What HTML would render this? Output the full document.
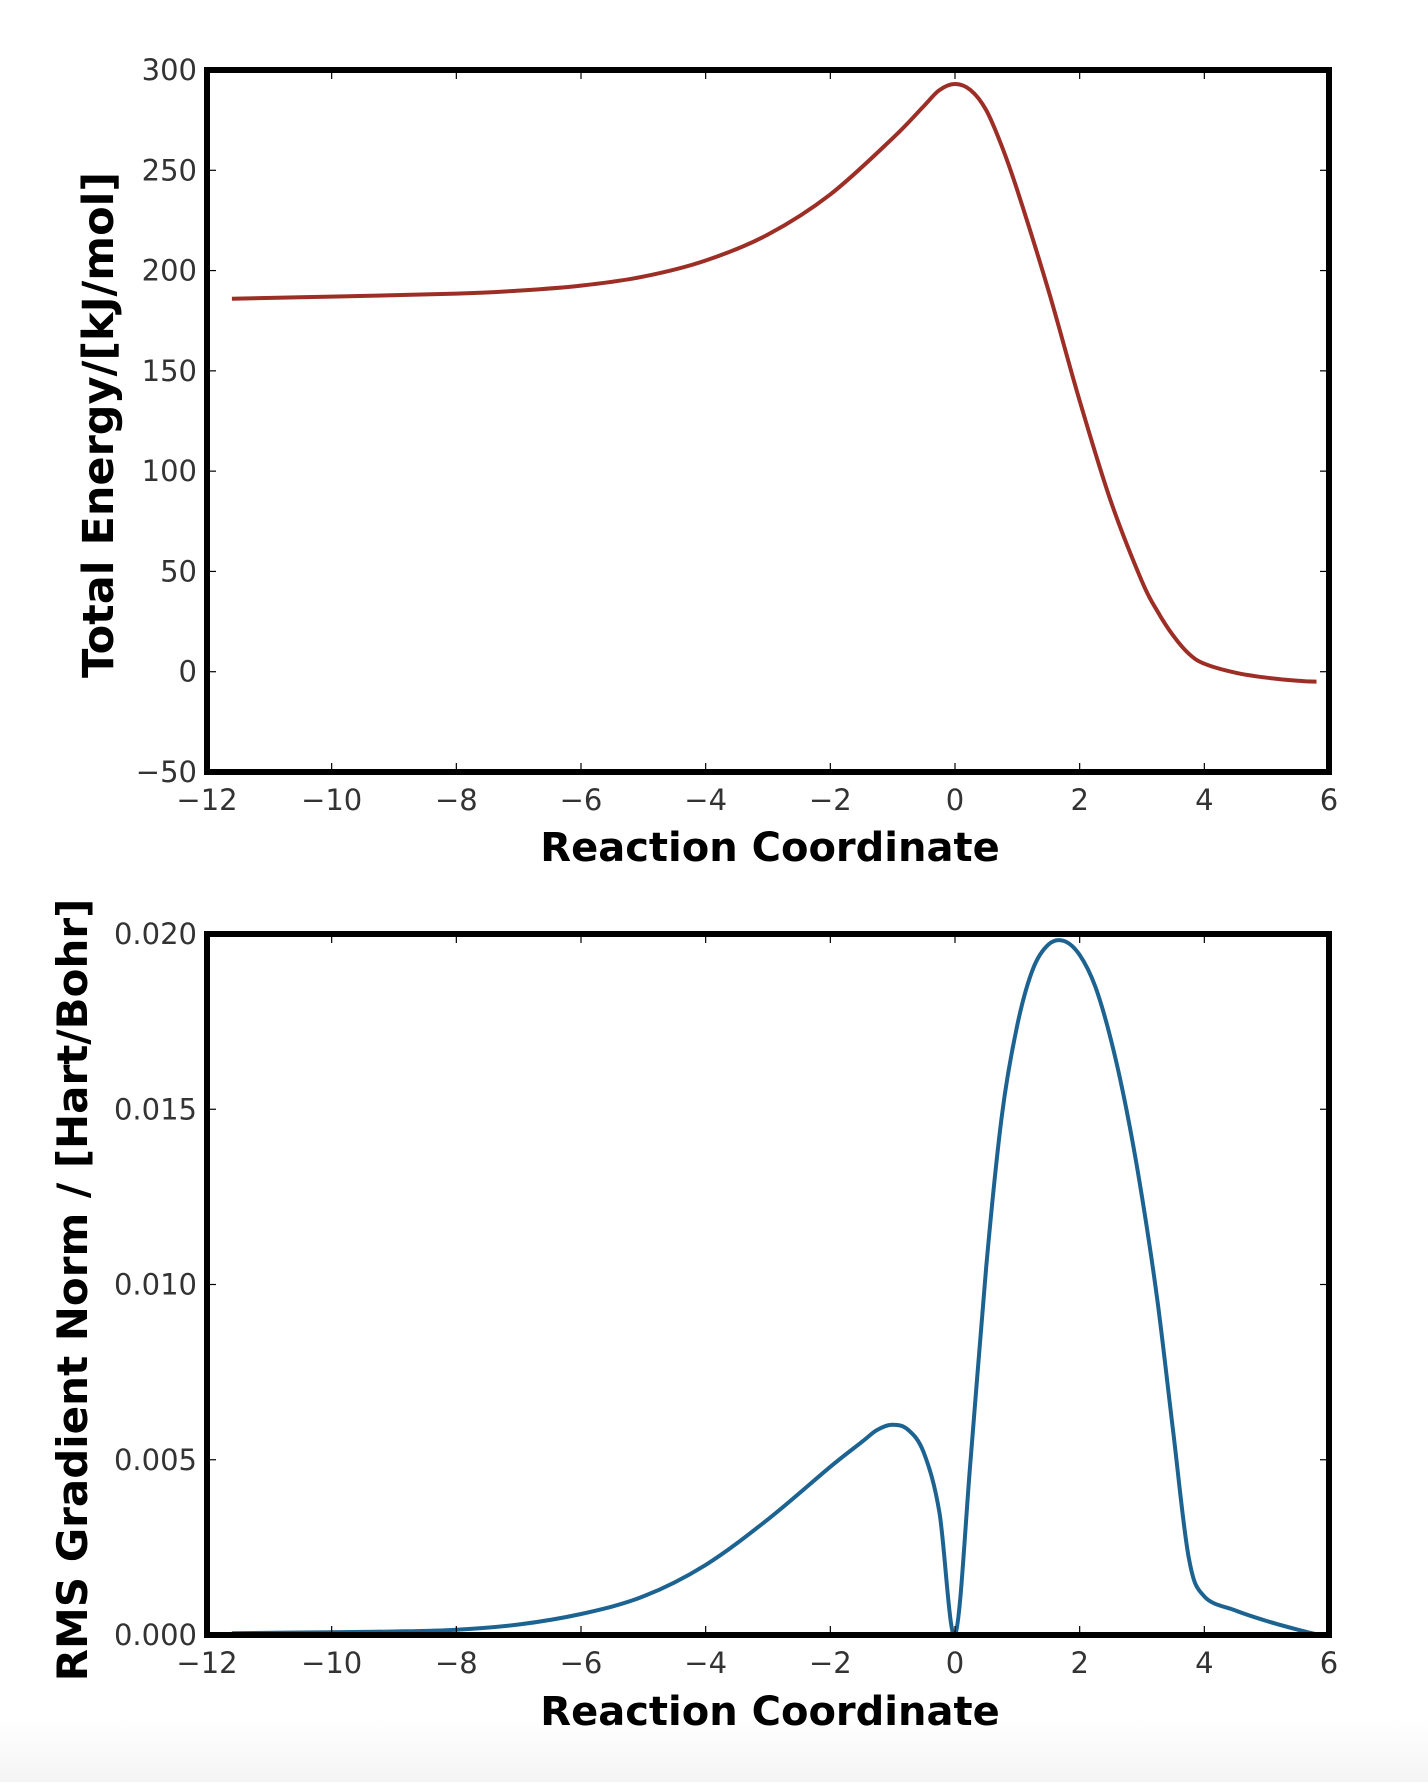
<!DOCTYPE html>
<html><head><meta charset="utf-8"><style>
html,body{margin:0;padding:0;background:#fff;}
body{width:1428px;height:1782px;overflow:hidden;position:relative;background:linear-gradient(#fff 0,#fff 1720px,#f4f4f4 1782px);}
svg text{font-family:"DejaVu Sans","Liberation Sans",sans-serif;}
</style></head><body>
<svg id="s" width="1428" height="1782" xmlns="http://www.w3.org/2000/svg">
<g id="g"></g>
<text x="113" y="425" transform="rotate(-90 113 425)" text-anchor="middle" font-size="43" font-weight="bold" fill="#000">Total Energy/[kJ/mol]</text>
<text x="87" y="1290" transform="rotate(-90 87 1290)" text-anchor="middle" font-size="42" font-weight="bold" fill="#000">RMS Gradient Norm / [Hart/Bohr]</text>
<text x="770" y="861" text-anchor="middle" font-size="40" font-weight="bold" fill="#000">Reaction Coordinate</text>
<text x="770" y="1725" text-anchor="middle" font-size="40" font-weight="bold" fill="#000">Reaction Coordinate</text>
</svg>
<script>
var NS="http://www.w3.org/2000/svg",g=document.getElementById('g');
function el(t,a,txt){var e=document.createElementNS(NS,t);for(var k in a)e.setAttribute(k,a[k]);if(txt!=null)e.textContent=txt;g.appendChild(e);return e;}
function axes(L,T,R,B,ymin,ymax,yt,fmt,data,col){
 var sx=function(x){return L+(x+12)/18*(R-L)},sy=function(y){return B-(y-ymin)/(ymax-ymin)*(B-T)};
 var P=data.map(function(p){return [sx(p[0]),sy(p[1])]});
 var d='M'+P[0][0].toFixed(1)+' '+P[0][1].toFixed(1);
 for(var i=0;i<P.length-1;i++){var p0=P[i-1]||P[i],p1=P[i],p2=P[i+1],p3=P[i+2]||P[i+1];
  d+=' C'+(p1[0]+(p2[0]-p0[0])/6).toFixed(1)+' '+(p1[1]+(p2[1]-p0[1])/6).toFixed(1)+' '+(p2[0]-(p3[0]-p1[0])/6).toFixed(1)+' '+(p2[1]-(p3[1]-p1[1])/6).toFixed(1)+' '+p2[0].toFixed(1)+' '+p2[1].toFixed(1);}
 el('path',{d:d,fill:'none',stroke:col,'stroke-width':4,'stroke-linejoin':'round'});
 for(var x=-12;x<=6;x+=2){var X=sx(x);el('line',{x1:X,x2:X,y1:B,y2:B-9,stroke:'#000','stroke-width':1.2});el('line',{x1:X,x2:X,y1:T,y2:T+9,stroke:'#000','stroke-width':1.2});
  el('text',{x:X,y:B+38,'text-anchor':'middle','font-size':29,fill:'#333'},(x<0?'\u2212'+(-x):''+x));}
 yt.forEach(function(v){var Y=sy(v);el('line',{x1:L,x2:L+9,y1:Y,y2:Y,stroke:'#000','stroke-width':1.2});el('line',{x1:R,x2:R-9,y1:Y,y2:Y,stroke:'#000','stroke-width':1.2});
  el('text',{x:L-10,y:Y+10,'text-anchor':'end','font-size':29,fill:'#333'},fmt(v));});
 el('rect',{x:L,y:T,width:R-L,height:B-T,fill:'none',stroke:'#000','stroke-width':6});
}
var e=[[-11.6,186],[-10,187],[-8,188.5],[-7,190],[-6,192.5],[-5,197],[-4,205],[-3,218],[-2,238],[-1,266],[-0.5,282],[-0.25,290],[0,293],[0.25,290],[0.5,280],[0.75,262],[1,240],[1.5,190],[2,135],[2.5,85],[3,45],[3.25,30],[3.5,18],[3.75,9],[4,4],[4.5,-0.5],[5,-3],[5.5,-4.5],[5.8,-5]];
axes(207,70,1329,772,-50,300,[-50,0,50,100,150,200,250,300],function(v){return v<0?'\u2212'+(-v):''+v},e,'#9c2e26');
var r=[[-11.6,0.05],[-10,0.08],[-9,0.1],[-8,0.15],[-7,0.3],[-6,0.6],[-5,1.1],[-4,2.0],[-3,3.3],[-2,4.8],[-1.5,5.5],[-1.25,5.85],[-1,6.0],[-0.75,5.85],[-0.5,5.2],[-0.25,3.5],[0,0],[0.25,5],[0.5,10.5],[0.75,14.8],[1,17.4],[1.25,19],[1.5,19.7],[1.75,19.8],[2,19.4],[2.25,18.5],[2.5,17],[2.75,15],[3,12.5],[3.25,9.5],[3.5,5.8],[3.75,2.2],[4,1.1],[4.5,0.7],[5,0.4],[5.5,0.15],[5.8,0.02]].map(function(p){return [p[0],p[1]/1000]});
axes(207,934,1329,1635,0,0.02,[0,0.005,0.01,0.015,0.02],function(v){return v.toFixed(3)},r,'#1d6391');
</script>
</body></html>
